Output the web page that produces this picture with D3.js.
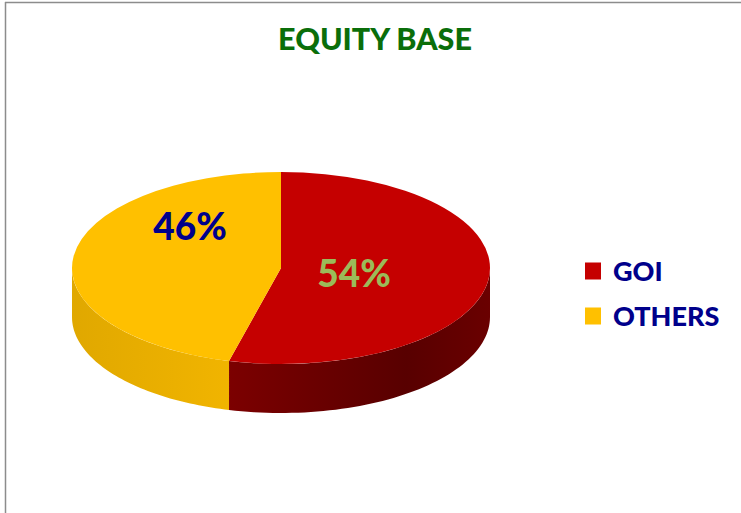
<!DOCTYPE html>
<html>
<head>
<meta charset="utf-8">
<script src="https://cdn.jsdelivr.net/npm/d3@7"></script>
<style>
  body { margin: 0; background: #fff; }
  svg { display: block; }
</style>
</head>
<body>
<svg id="chart"></svg>
<script>
const categories = ["GOI", "OTHERS"]
const shares = [54, 46]
const labels = ["54%", "46%"]

const width = 741, height = 513
const topColors = ["#c50000", "#ffc000"]
const sideColors = [["#820000", "#580000"], ["#f2b500", "#e0a800"]]
const labelColors = ["#9bbb59", "#00008b"]

const cx = 281, cy = 268, rx = 209, ry = 96, depth = 49

const svg = d3.select("#chart")
  .attr("width", width)
  .attr("height", height)
  .style("font-family", "Lato, 'Open Sans', sans-serif")

// frame lines (only top and left visible in the picture)
svg.append("line").attr("x1", 5).attr("x2", width).attr("y1", 2.5).attr("y2", 2.5)
  .attr("stroke", "#8c8c8c").attr("stroke-width", 1.5)
svg.append("line").attr("x1", 5.5).attr("x2", 5.5).attr("y1", 2).attr("y2", height)
  .attr("stroke", "#8c8c8c").attr("stroke-width", 1.5)

svg.append("text")
  .attr("x", 375)
  .attr("y", 50)
  .attr("text-anchor", "middle")
  .attr("font-size", 30.5)
  .attr("font-weight", 900)
  .attr("fill", "#0a6e0a")
  .text("EQUITY BASE")

const defs = svg.append("defs")
sideColors.forEach(function (c, i) {
  const g = defs.append("linearGradient").attr("id", "side" + i)
    .attr("gradientUnits", "userSpaceOnUse")
    .attr("x1", cx - rx).attr("x2", cx + rx).attr("y1", 0).attr("y2", 0)
  if (i === 0) {
    g.append("stop").attr("offset", "0.3").attr("stop-color", c[0])
    g.append("stop").attr("offset", "0.8").attr("stop-color", c[1])
    g.append("stop").attr("offset", "1").attr("stop-color", "#6a0000")
  } else {
    g.append("stop").attr("offset", "0").attr("stop-color", c[1])
    g.append("stop").attr("offset", "0.4").attr("stop-color", c[0])
  }
})

const pie = d3.pie().sort(null).value(function (d) { return d })
const arcs = pie(shares)

const px = function (a) { return cx + rx * Math.sin(a) }
const py = function (a) { return cy - ry * Math.cos(a) }

// side walls, only the front half (angles between pi/2 and 3pi/2)
const sides = svg.append("g")
arcs.forEach(function (d, i) {
  const a0 = Math.max(d.startAngle, Math.PI / 2)
  const a1 = Math.min(d.endAngle, 3 * Math.PI / 2)
  if (a1 <= a0) return
  const steps = 60
  const path = d3.path()
  path.moveTo(px(a0), py(a0))
  for (let k = 1; k <= steps; k++) {
    const a = a0 + (a1 - a0) * k / steps
    path.lineTo(px(a), py(a))
  }
  for (let k = steps; k >= 0; k--) {
    const a = a0 + (a1 - a0) * k / steps
    path.lineTo(px(a), py(a) + depth)
  }
  path.closePath()
  sides.append("path")
    .attr("d", path.toString())
    .attr("fill", "url(#side" + i + ")")
})

// top face: circular arc squashed into an ellipse
const arc = d3.arc().innerRadius(0).outerRadius(rx)
svg.append("g")
  .attr("transform", "translate(" + cx + "," + cy + ") scale(1," + (ry / rx) + ")")
  .selectAll("path")
  .data(arcs)
  .enter().append("path")
  .attr("d", arc)
  .attr("fill", function (d, i) { return topColors[i] })

const labelPos = [[354, 287], [190, 240]]
svg.append("g").selectAll("text")
  .data(arcs)
  .enter().append("text")
  .attr("x", function (d, i) { return labelPos[i][0] })
  .attr("y", function (d, i) { return labelPos[i][1] })
  .attr("text-anchor", "middle")
  .attr("font-size", 37)
  .attr("font-weight", 900)
  .attr("fill", function (d, i) { return labelColors[i] })
  .text(function (d, i) { return labels[i] })

const legend = svg.append("g")
const y = d3.scaleBand().domain(categories).range([248, 338])
legend.selectAll("rect")
  .data(categories)
  .enter().append("rect")
  .attr("x", 585)
  .attr("y", function (d) { return y(d) + y.bandwidth() / 2 - 8 })
  .attr("width", 16)
  .attr("height", 17)
  .attr("fill", function (d, i) { return topColors[i] })
legend.selectAll("text")
  .data(categories)
  .enter().append("text")
  .attr("x", 613)
  .attr("y", function (d) { return y(d) + y.bandwidth() / 2 + 10 })
  .attr("font-size", 27)
  .attr("font-weight", 900)
  .attr("fill", "#00008b")
  .text(function (d) { return d })
</script>
</body>
</html>
